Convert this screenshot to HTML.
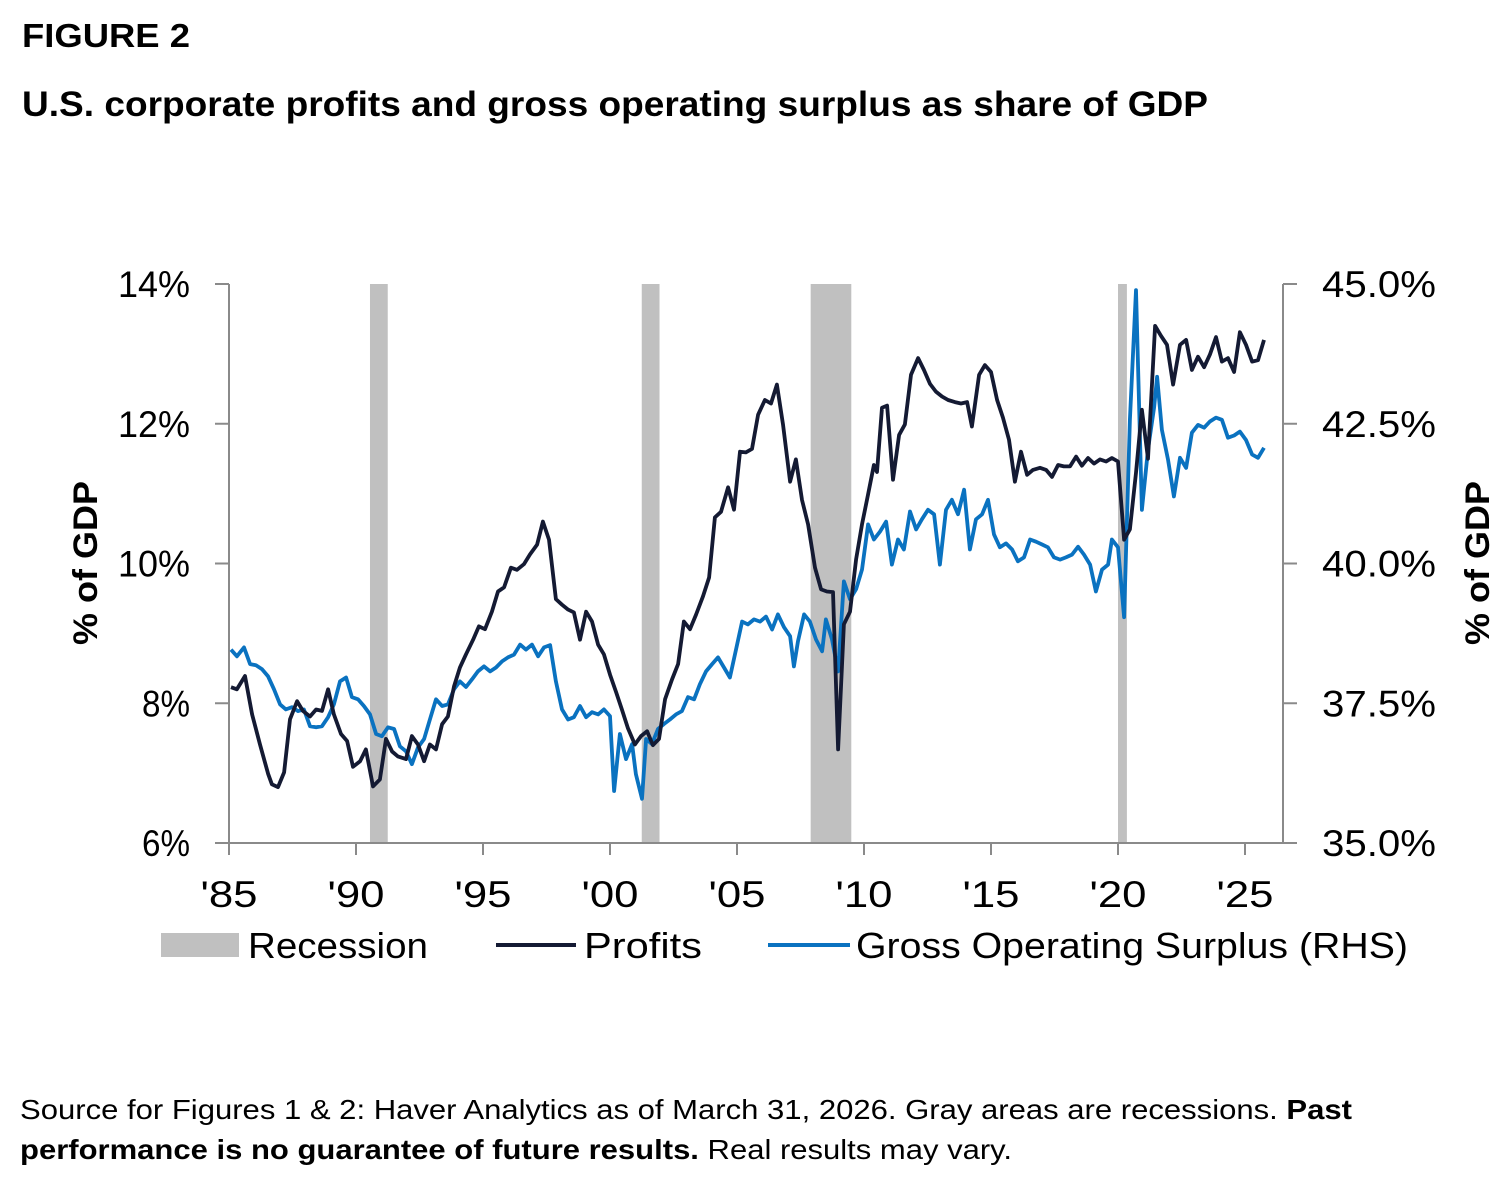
<!DOCTYPE html>
<html><head><meta charset="utf-8">
<style>
body{margin:0;background:#fff;width:1510px;height:1190px;overflow:hidden;font-family:"Liberation Sans",sans-serif;color:#111;}
svg text{font-family:"Liberation Sans",sans-serif;}
</style></head>
<body>
<svg id="chart" width="1510" height="1190">
<text x="22" y="47" font-size="33" font-weight="bold" textLength="168" lengthAdjust="spacingAndGlyphs">FIGURE 2</text>
<text x="22" y="116" font-size="35" font-weight="bold" textLength="1186" lengthAdjust="spacingAndGlyphs">U.S. corporate profits and gross operating surplus as share of GDP</text>
<g id="rec"></g>
<g id="axes"></g>
<g id="lines"></g>
<text transform="translate(97,563) rotate(-90)" text-anchor="middle" font-size="34" font-weight="bold" textLength="164" lengthAdjust="spacingAndGlyphs">% of GDP</text>
<text transform="translate(1489,563) rotate(-90)" text-anchor="middle" font-size="34" font-weight="bold" textLength="164" lengthAdjust="spacingAndGlyphs">% of GDP</text>
<g>
<rect x="161" y="933" width="78" height="24" fill="#c0c0c0"/>
<text x="248" y="958" font-size="36" textLength="180" lengthAdjust="spacingAndGlyphs">Recession</text>
<line x1="496" y1="945" x2="576" y2="945" stroke="#141a33" stroke-width="4"/>
<text x="584" y="958" font-size="36" textLength="118" lengthAdjust="spacingAndGlyphs">Profits</text>
<line x1="768" y1="945" x2="850" y2="945" stroke="#0a72c0" stroke-width="4"/>
<text x="856" y="958" font-size="36" textLength="552" lengthAdjust="spacingAndGlyphs">Gross Operating Surplus (RHS)</text>
</g>
<text x="20" y="1119" font-size="28" textLength="1332" lengthAdjust="spacingAndGlyphs">Source for Figures 1 &amp; 2: Haver Analytics as of March 31, 2026. Gray areas are recessions. <tspan font-weight="bold">Past</tspan></text>
<text x="20" y="1159" font-size="28" textLength="992" lengthAdjust="spacingAndGlyphs"><tspan font-weight="bold">performance is no guarantee of future results.</tspan> Real results may vary.</text>
</svg>
<script>
const xTickLabels=["'85","'90","'95","'00","'05","'10","'15","'20","'25"];
const xTickYears=[1985,1990,1995,2000,2005,2010,2015,2020,2025];
const leftTicks=[6,8,10,12,14];
const leftTickLabels=["6%","8%","10%","12%","14%"];
const rightTicks=[35,37.5,40,42.5,45];
const rightTickLabels=["35.0%","37.5%","40.0%","42.5%","45.0%"];
const recStart=[1990.55,2001.25,2007.9,2020.0];
const recEnd=[1991.25,2001.95,2009.5,2020.35];
const profitYears=[1985.08,1985.31,1985.63,1985.91,1986.22,1986.54,1986.69,1986.93,1987.17,1987.40,1987.68,1987.91,1988.19,1988.43,1988.66,1988.90,1989.13,1989.41,1989.65,1989.88,1990.16,1990.39,1990.67,1990.94,1991.18,1991.42,1991.65,1991.97,1992.20,1992.44,1992.68,1992.91,1993.15,1993.39,1993.62,1993.86,1994.09,1994.33,1994.61,1994.84,1995.08,1995.35,1995.59,1995.83,1996.10,1996.34,1996.61,1996.85,1997.13,1997.36,1997.60,1997.87,1998.11,1998.35,1998.58,1998.82,1999.06,1999.29,1999.53,1999.76,2000.00,2000.24,2000.47,2000.71,2000.98,2001.22,2001.46,2001.69,2001.93,2002.17,2002.44,2002.68,2002.91,2003.15,2003.39,2003.66,2003.90,2004.13,2004.37,2004.65,2004.88,2005.12,2005.35,2005.59,2005.83,2006.10,2006.34,2006.57,2006.81,2007.09,2007.32,2007.56,2007.80,2008.07,2008.31,2008.54,2008.78,2008.98,2009.21,2009.45,2009.69,2009.92,2010.16,2010.39,2010.51,2010.71,2010.91,2011.14,2011.38,2011.61,2011.85,2012.13,2012.36,2012.60,2012.83,2013.07,2013.31,2013.58,2013.82,2014.06,2014.25,2014.53,2014.76,2015.00,2015.24,2015.47,2015.71,2015.94,2016.18,2016.42,2016.65,2016.93,2017.17,2017.40,2017.64,2017.87,2018.11,2018.35,2018.58,2018.82,2019.06,2019.29,2019.53,2019.76,2020.00,2020.24,2020.47,2020.71,2020.94,2021.18,2021.46,2021.69,2021.93,2022.17,2022.44,2022.68,2022.91,2023.15,2023.39,2023.62,2023.86,2024.09,2024.33,2024.57,2024.80,2025.04,2025.28,2025.51,2025.75];
const profitValues=[8.23,8.20,8.39,7.84,7.41,6.99,6.84,6.80,7.01,7.77,8.03,7.89,7.81,7.91,7.89,8.20,7.84,7.56,7.46,7.09,7.17,7.34,6.81,6.91,7.49,7.31,7.24,7.20,7.53,7.41,7.17,7.41,7.34,7.70,7.81,8.24,8.51,8.70,8.91,9.10,9.06,9.31,9.60,9.66,9.94,9.91,9.99,10.13,10.27,10.60,10.34,9.49,9.41,9.34,9.30,8.91,9.31,9.17,8.84,8.70,8.41,8.16,7.91,7.64,7.41,7.53,7.60,7.40,7.49,8.06,8.34,8.56,9.17,9.06,9.27,9.53,9.80,10.66,10.74,11.09,10.77,11.60,11.59,11.64,12.13,12.34,12.29,12.56,11.99,11.17,11.49,10.91,10.56,9.94,9.63,9.60,9.59,7.34,9.13,9.31,10.06,10.56,10.99,11.41,11.31,12.23,12.26,11.20,11.84,11.99,12.70,12.94,12.77,12.57,12.46,12.39,12.34,12.31,12.29,12.31,11.96,12.70,12.84,12.74,12.34,12.09,11.77,11.17,11.60,11.27,11.34,11.37,11.34,11.24,11.41,11.39,11.39,11.53,11.40,11.51,11.43,11.49,11.46,11.51,11.46,10.34,10.49,11.30,12.20,11.50,13.40,13.26,13.13,12.56,13.13,13.20,12.77,12.96,12.81,12.99,13.24,12.89,12.94,12.74,13.31,13.13,12.89,12.91,13.20];
const gosYears=[1985.08,1985.31,1985.59,1985.83,1986.06,1986.30,1986.54,1986.77,1987.01,1987.24,1987.48,1987.72,1987.95,1988.19,1988.43,1988.66,1988.90,1989.13,1989.37,1989.61,1989.84,1990.08,1990.31,1990.55,1990.79,1991.02,1991.26,1991.50,1991.73,1991.97,1992.20,1992.44,1992.68,1992.91,1993.15,1993.39,1993.62,1993.86,1994.09,1994.33,1994.57,1994.80,1995.04,1995.28,1995.51,1995.75,1995.98,1996.22,1996.46,1996.69,1996.93,1997.17,1997.40,1997.64,1997.87,1998.11,1998.35,1998.58,1998.82,1999.06,1999.29,1999.53,1999.76,2000.00,2000.16,2000.39,2000.63,2000.87,2001.02,2001.26,2001.42,2001.65,2001.89,2002.13,2002.36,2002.60,2002.83,2003.07,2003.31,2003.54,2003.78,2004.02,2004.25,2004.49,2004.72,2004.96,2005.20,2005.43,2005.67,2005.91,2006.14,2006.38,2006.61,2006.85,2007.09,2007.24,2007.40,2007.64,2007.87,2008.11,2008.35,2008.50,2008.74,2008.98,2009.21,2009.45,2009.69,2009.92,2010.16,2010.39,2010.63,2010.87,2011.10,2011.34,2011.57,2011.81,2012.05,2012.28,2012.52,2012.76,2012.99,2013.23,2013.46,2013.70,2013.94,2014.17,2014.41,2014.65,2014.88,2015.12,2015.35,2015.59,2015.83,2016.06,2016.30,2016.54,2016.77,2017.01,2017.24,2017.48,2017.72,2017.95,2018.19,2018.43,2018.66,2018.90,2019.13,2019.37,2019.61,2019.76,2020.00,2020.24,2020.47,2020.71,2020.94,2021.18,2021.42,2021.54,2021.73,2021.97,2022.20,2022.44,2022.68,2022.91,2023.15,2023.39,2023.62,2023.86,2024.09,2024.33,2024.57,2024.80,2025.04,2025.28,2025.51,2025.75];
const gosValues=[38.46,38.34,38.50,38.20,38.18,38.11,37.98,37.75,37.48,37.39,37.43,37.36,37.39,37.09,37.07,37.09,37.25,37.48,37.89,37.96,37.61,37.57,37.45,37.30,36.95,36.91,37.07,37.04,36.73,36.64,36.41,36.71,36.86,37.21,37.57,37.45,37.48,37.75,37.89,37.79,37.93,38.07,38.16,38.07,38.14,38.25,38.32,38.37,38.55,38.46,38.55,38.34,38.50,38.54,37.89,37.39,37.21,37.25,37.45,37.25,37.34,37.30,37.39,37.27,35.93,36.95,36.50,36.77,36.23,35.79,36.86,36.77,37.04,37.13,37.21,37.30,37.36,37.61,37.57,37.84,38.07,38.20,38.32,38.14,37.96,38.46,38.96,38.91,39.00,38.96,39.05,38.82,39.09,38.86,38.70,38.16,38.61,39.09,38.96,38.64,38.43,39.00,38.64,38.07,39.68,39.36,39.54,39.89,40.70,40.43,40.57,40.75,39.98,40.43,40.25,40.93,40.61,40.79,40.96,40.88,39.98,40.96,41.14,40.88,41.32,40.25,40.79,40.88,41.14,40.52,40.29,40.36,40.25,40.04,40.11,40.43,40.39,40.34,40.29,40.11,40.07,40.11,40.16,40.30,40.16,39.98,39.50,39.89,39.98,40.43,40.29,39.04,42.57,44.89,40.96,42.04,42.79,43.34,42.39,41.86,41.20,41.89,41.71,42.34,42.48,42.43,42.54,42.61,42.57,42.25,42.29,42.36,42.21,41.95,41.89,42.07];

const NS='http://www.w3.org/2000/svg';
const X0=229,X1=1283,YT=284,YB=843;
const xs=y=>229+(y-1985)*25.4;
const yl=v=>YB-(v-6)/8*(YB-YT);
const yr=v=>YB-(v-35)/10*(YB-YT);
function mk(tag,attrs,parent){const e=document.createElementNS(NS,tag);for(const k in attrs)e.setAttribute(k,attrs[k]);parent.appendChild(e);return e;}
const rec=document.getElementById('rec'),axes=document.getElementById('axes'),lines=document.getElementById('lines');
recStart.forEach((s,i)=>{const r=mk('rect',{x:xs(s),y:YT,width:xs(recEnd[i])-xs(s),height:YB-YT,fill:'#c0c0c0'},rec);

});
const ac='#8a8a8a';
let l=mk('line',{x1:X0,y1:YT,x2:X0,y2:YB,stroke:ac,'stroke-width':2},axes);

l=mk('line',{x1:X1,y1:YT,x2:X1,y2:YB,stroke:ac,'stroke-width':2},axes);

l=mk('line',{x1:X0,y1:YB,x2:X1,y2:YB,stroke:ac,'stroke-width':2},axes);

leftTicks.forEach((v,i)=>{mk('line',{x1:215,y1:yl(v),x2:X0,y2:yl(v),stroke:ac,'stroke-width':2},axes);
const t=mk('text',{x:190,y:yl(v)+13,'text-anchor':'end','font-size':37,textLength:leftTickLabels[i].length*24,lengthAdjust:'spacingAndGlyphs'},axes);t.textContent=leftTickLabels[i];

});
rightTicks.forEach((v,i)=>{mk('line',{x1:X1,y1:yr(v),x2:1297,y2:yr(v),stroke:ac,'stroke-width':2},axes);
const t=mk('text',{x:1322,y:yr(v)+13,'font-size':37,textLength:114,lengthAdjust:'spacingAndGlyphs'},axes);t.textContent=rightTickLabels[i];

});
xTickYears.forEach((y,i)=>{mk('line',{x1:xs(y),y1:YB,x2:xs(y),y2:YB+12,stroke:ac,'stroke-width':2},axes);
const t=mk('text',{x:xs(y),y:907,'text-anchor':'middle','font-size':37,textLength:57,lengthAdjust:'spacingAndGlyphs'},axes);t.textContent=xTickLabels[i];

});
const gp=mk('path',{d:gosYears.map((y,i)=>(i?'L':'M')+xs(y).toFixed(1)+','+yr(gosValues[i]).toFixed(1)).join(''),fill:'none',stroke:'#0a72c0','stroke-width':3.8,'stroke-linejoin':'round'},lines);


const pp=mk('path',{d:profitYears.map((y,i)=>(i?'L':'M')+xs(y).toFixed(1)+','+yl(profitValues[i]).toFixed(1)).join(''),fill:'none',stroke:'#141a33','stroke-width':3.8,'stroke-linejoin':'round'},lines);


</script>
</body></html>
